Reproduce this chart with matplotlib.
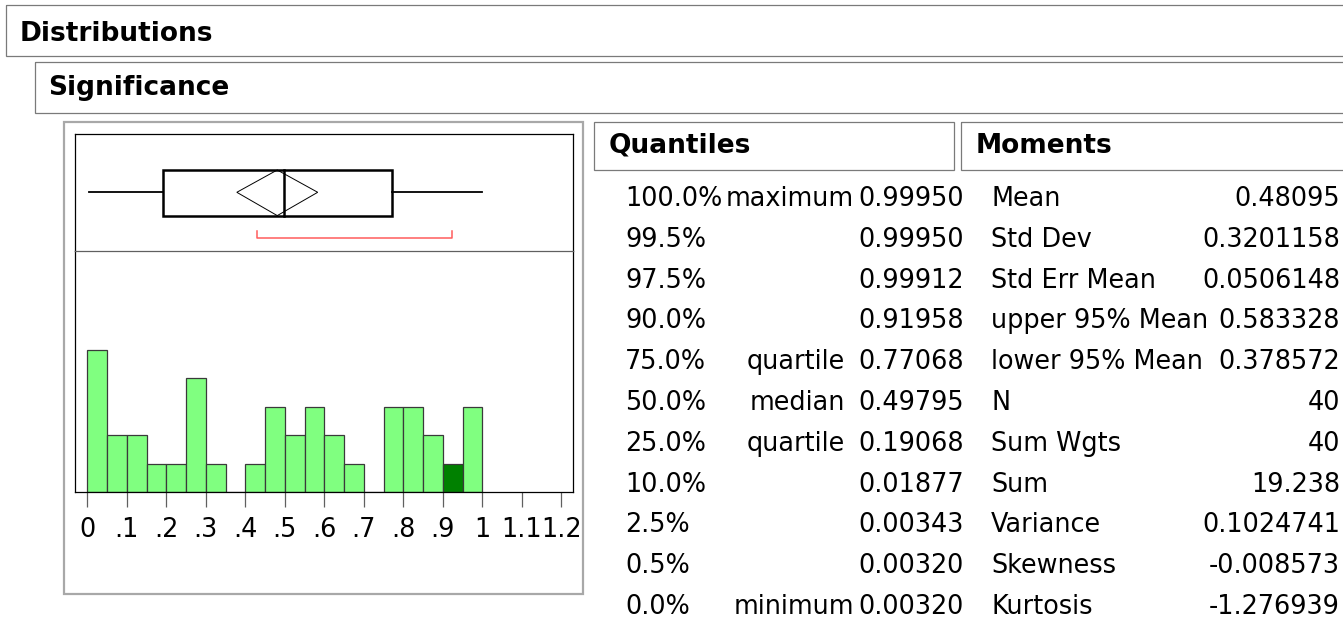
import numpy as np
import matplotlib
matplotlib.use('Agg')
from matplotlib import pyplot as plt
from matplotlib.patches import Rectangle, Polygon

# Histogram data (bin width 0.05)
bin_left = [0.00, 0.05, 0.10, 0.15, 0.20, 0.25, 0.30, 0.35, 0.40, 0.45,
            0.50, 0.55, 0.60, 0.65, 0.70, 0.75, 0.80, 0.85, 0.90, 0.95]
counts = [5, 2, 2, 1, 1, 4, 1, 0, 1, 3, 2, 3, 2, 1, 0, 3, 3, 2, 1, 3]
selected_bins = [0.90]
shortest_half = [0.4305, 0.9225]

x_ticks = [0, 0.1, 0.2, 0.3, 0.4, 0.5, 0.6, 0.7, 0.8, 0.9, 1.0, 1.1, 1.2]
x_tick_labels = ['0', '.1', '.2', '.3', '.4', '.5', '.6', '.7', '.8', '.9', '1', '1.1', '1.2']

# Quantiles table
quantile_pct = ['100.0%', '99.5%', '97.5%', '90.0%', '75.0%', '50.0%',
                '25.0%', '10.0%', '2.5%', '0.5%', '0.0%']
quantile_name = ['maximum', '', '', '', 'quartile', 'median',
                 'quartile', '', '', '', 'minimum']
quantile_value = ['0.99950', '0.99950', '0.99912', '0.91958', '0.77068', '0.49795',
                  '0.19068', '0.01877', '0.00343', '0.00320', '0.00320']

# Moments table
moment_name = ['Mean', 'Std Dev', 'Std Err Mean', 'upper 95% Mean', 'lower 95% Mean',
               'N', 'Sum Wgts', 'Sum', 'Variance', 'Skewness', 'Kurtosis']
moment_value = ['0.48095', '0.3201158', '0.0506148', '0.583328', '0.378572',
                '40', '40', '19.238', '0.1024741', '-0.008573', '-1.276939']

q = dict(zip(quantile_pct, [float(v) for v in quantile_value]))
m = dict(zip(moment_name, [float(v) for v in moment_value]))

W, H = 1343, 622
FS = 18.4
HFS = 19

fig = plt.figure(figsize=(W / 100, H / 100), dpi=100)
bg = fig.add_axes([0, 0, 1, 1])
bg.set_xlim(0, W)
bg.set_ylim(H, 0)
bg.axis('off')


def frame(x0, y0, x1, y1, color='#7a7a7a', lw=0.9):
    bg.add_patch(Rectangle((x0, y0), x1 - x0, y1 - y0, fill=False,
                           ec=color, lw=lw, clip_on=False))


def ax_rect(x0, y0, x1, y1):
    return [x0 / W, 1 - y1 / H, (x1 - x0) / W, (y1 - y0) / H]


# Outline headers
frame(5.5, 4.5, 1360, 56)
bg.text(20, 41, 'Distributions', fontsize=HFS, fontweight='bold', va='baseline')
frame(34.5, 62, 1360, 112.5)
bg.text(48.5, 95, 'Significance', fontsize=HFS, fontweight='bold', va='baseline')
frame(64, 121.5, 583, 594, color='#a8a8a8', lw=1.6)
frame(594, 121.5, 954, 169.5)
bg.text(608.5, 153, 'Quantiles', fontsize=HFS, fontweight='bold', va='baseline')
frame(961, 121.5, 1360, 169.5)
bg.text(975.5, 153, 'Moments', fontsize=HFS, fontweight='bold', va='baseline')

# Tables
row_y0, row_dy = 206, 40.8
for i in range(len(quantile_pct)):
    y = row_y0 + i * row_dy
    bg.text(625, y, quantile_pct[i], fontsize=FS, va='baseline')
    name_x = 854 if quantile_name[i] in ('maximum', 'minimum') else 845
    bg.text(name_x, y, quantile_name[i], fontsize=FS, va='baseline', ha='right')
    bg.text(963.5, y, quantile_value[i], fontsize=FS, va='baseline', ha='right')
for i in range(len(moment_name)):
    y = row_y0 + i * row_dy
    bg.text(991, y, moment_name[i], fontsize=FS, va='baseline')
    bg.text(1340, y, moment_value[i], fontsize=FS, va='baseline', ha='right')

xlim = (-0.0311, 1.2304)

# Box plot
ax_box = fig.add_axes(ax_rect(75, 134, 573.3, 251.2))
ax_box.set_xlim(xlim)
ax_box.set_ylim(251.2, 134)
ax_box.set_xticks([])
ax_box.set_yticks([])
ax_box.spines['bottom'].set_visible(False)
for s in ['top', 'left', 'right']:
    ax_box.spines[s].set_linewidth(0.9)
box_top, box_bot, mid = 170, 215.6, 192.3
ax_box.plot([q['0.0%'], q['25.0%']], [mid, mid], color='k', lw=1.3)
ax_box.plot([q['75.0%'], q['100.0%']], [mid, mid], color='k', lw=1.3)
ax_box.add_patch(Rectangle((q['25.0%'], box_top), q['75.0%'] - q['25.0%'], box_bot - box_top,
                           fill=False, ec='k', lw=1.8))
ax_box.plot([q['50.0%'], q['50.0%']], [box_top, box_bot], color='k', lw=1.8)
ax_box.add_patch(Polygon([(m['lower 95% Mean'], mid), (m['Mean'], box_top),
                          (m['upper 95% Mean'], mid), (m['Mean'], box_bot)],
                         closed=True, fill=False, ec='k', lw=0.7))
ax_box.plot([shortest_half[0], shortest_half[0], shortest_half[1], shortest_half[1]],
            [231.3, 238, 238, 231.3], color='#ff5c5c', lw=1.1)

# Histogram
ax_hist = fig.add_axes(ax_rect(75, 251.2, 573.3, 492))
colors = ['#008000' if b in selected_bins else '#80ff80' for b in bin_left]
ax_hist.bar(bin_left, counts, width=0.05, align='edge', color=colors,
            edgecolor='#3a3a3a', linewidth=0.9)
ax_hist.set_xlim(xlim)
ax_hist.set_ylim(0, 8.48)
ax_hist.set_yticks([])
ax_hist.set_xticks(x_ticks)
ax_hist.set_xticklabels(x_tick_labels)
ax_hist.tick_params(axis='x', length=10.8, width=0.9, color='#606060', pad=7.3, labelsize=FS)
for s in ['left', 'right', 'bottom']:
    ax_hist.spines[s].set_linewidth(0.9)
ax_hist.spines['top'].set_color('#606060')
ax_hist.spines['top'].set_linewidth(0.9)

fig.savefig('out.png', dpi=100)
